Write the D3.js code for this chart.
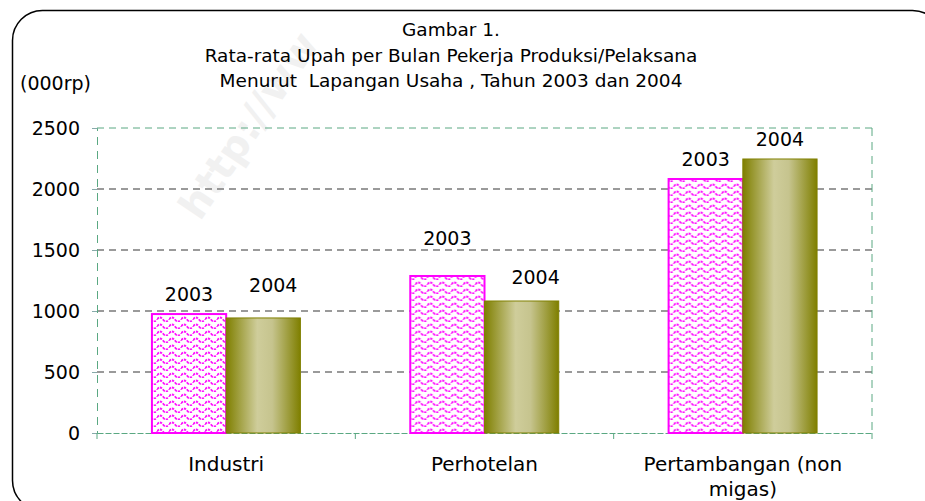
<!DOCTYPE html>
<html>
<head>
<meta charset="utf-8">
<script src="https://cdn.jsdelivr.net/npm/d3@7"></script>
<style>
  body { margin: 0; background: #fff; }
  svg { font-family: "DejaVu Sans", Verdana, sans-serif; }
</style>
</head>
<body>
<div id="chart"></div>
<script>
// data
var categories = ["Industri", "Perhotelan", "Pertambangan (non migas)"];
var years = ["2003", "2004"];
var values2003 = [975, 1287, 2082];
var values2004 = [943, 1082, 2246];
var yTicks = [0, 500, 1000, 1500, 2000, 2500];
var titleLines = ["Gambar 1.",
                  "Rata-rata Upah per Bulan Pekerja Produksi/Pelaksana",
                  "Menurut  Lapangan Usaha , Tahun 2003 dan 2004"];

var width = 925, height = 501;
var margin = {top: 128, right: 53, bottom: 68, left: 97};

var svg = d3.select("#chart").append("svg")
    .attr("width", width)
    .attr("height", height);

var defs = svg.append("defs");

// wavy magenta hatch for 2003
var pat = defs.append("pattern")
    .attr("id", "wave")
    .attr("patternUnits", "userSpaceOnUse")
    .attr("width", 12)
    .attr("height", 7);
pat.append("rect").attr("width", 12).attr("height", 7).attr("fill", "#fff");
pat.append("path")
    .attr("d", "M0,4.5 Q3,0.5 6,4.5 T12,4.5")
    .attr("fill", "none")
    .attr("stroke", "#ff11ff")
    .attr("stroke-width", 1.8)
    .attr("stroke-dasharray", "2.5,1");

// olive cylinder look for 2004
var grad = defs.append("linearGradient")
    .attr("id", "olive")
    .attr("x1", "0%").attr("x2", "100%").attr("y1", "0%").attr("y2", "0%");
grad.append("stop").attr("offset", "0%").attr("stop-color", "#7f7f00");
grad.append("stop").attr("offset", "42%").attr("stop-color", "#cfcd9b");
grad.append("stop").attr("offset", "62%").attr("stop-color", "#c6c48e");
grad.append("stop").attr("offset", "100%").attr("stop-color", "#7f7f00");

// faint watermark
svg.append("text")
    .attr("transform", "translate(200,222) rotate(-56)")
    .style("font-size", "40px")
    .style("font-weight", "bold")
    .style("fill", "#f1f1f1")
    .text("http://ww");

// rounded frame
svg.append("rect")
    .attr("x", 12.5).attr("y", 10.5)
    .attr("width", 930).attr("height", 500)
    .attr("rx", 30).attr("ry", 30)
    .attr("fill", "none")
    .attr("stroke", "#000")
    .attr("stroke-width", 1.5);

var x = d3.scaleBand()
    .domain(categories)
    .range([margin.left, width - margin.right])
    .padding(0);

var x1 = d3.scaleBand()
    .domain(years)
    .range([0, x.bandwidth()])
    .paddingInner(0)
    .paddingOuter(0.74);

var y = d3.scaleLinear()
    .domain([0, 2500])
    .range([height - margin.bottom, margin.top]);

var green = "#5aa882";

// gridlines
svg.append("g")
    .selectAll("line")
    .data(yTicks.filter(function(d) { return d > 0 && d < 2500; }))
    .enter().append("line")
    .attr("x1", margin.left).attr("x2", width - margin.right)
    .attr("y1", function(d) { return y(d); })
    .attr("y2", function(d) { return y(d); })
    .attr("stroke", "#7a7a7a")
    .attr("stroke-width", 1.3)
    .attr("stroke-dasharray", "7,5");

// green dashed box (top + right)
svg.append("line")
    .attr("x1", margin.left).attr("x2", width - margin.right)
    .attr("y1", y(2500)).attr("y2", y(2500))
    .attr("stroke", green).attr("stroke-dasharray", "7,5");
svg.append("line")
    .attr("x1", width - margin.right).attr("x2", width - margin.right)
    .attr("y1", y(2500)).attr("y2", y(0))
    .attr("stroke", green).attr("stroke-dasharray", "8,6");

// y axis
var yAxis = svg.append("g")
    .attr("transform", "translate(" + margin.left + ",0)")
    .call(d3.axisLeft(y).tickValues(yTicks).tickFormat(d3.format("d")).tickSize(5).tickPadding(12));
yAxis.select(".domain").attr("stroke", green).attr("stroke-dasharray", "8,6");
yAxis.selectAll(".tick line").attr("stroke", "#8aa");
yAxis.selectAll("text")
    .style("font-size", "19px")
    .style("font-family", "DejaVu Sans, Verdana, sans-serif")
    .attr("fill", "#000");

// x axis
var xAxis = svg.append("g")
    .attr("transform", "translate(0," + y(0) + ")")
    .call(d3.axisBottom(x).tickSize(0).tickFormat(""));
xAxis.select(".domain").attr("stroke", green).attr("stroke-dasharray", "6,2");
xAxis.selectAll(".tick").remove();
xAxis.selectAll(".sep")
    .data(categories.concat(["end"]))
    .enter().append("line")
    .attr("class", "sep")
    .attr("x1", function(d, i) { return i < categories.length ? x(d) : x.range()[1]; })
    .attr("x2", function(d, i) { return i < categories.length ? x(d) : x.range()[1]; })
    .attr("y1", 0).attr("y2", 6)
    .attr("stroke", green);

// bars
var rows = categories.map(function(c, i) {
  return {cat: c, vals: [{year: "2003", v: values2003[i]}, {year: "2004", v: values2004[i]}]};
});

var groups = svg.append("g").selectAll("g")
    .data(rows)
    .enter().append("g")
    .attr("transform", function(d) { return "translate(" + x(d.cat) + ",0)"; });

groups.selectAll("rect")
    .data(function(d) { return d.vals; })
    .enter().append("rect")
    .attr("x", function(d) { return x1(d.year); })
    .attr("y", function(d) { return y(d.v); })
    .attr("width", x1.bandwidth())
    .attr("height", function(d) { return y(0) - y(d.v); })
    .attr("fill", function(d) { return d.year == "2003" ? "url(#wave)" : "url(#olive)"; })
    .attr("stroke", function(d) { return d.year == "2003" ? "#ff00ff" : "#808000"; })
    .attr("stroke-width", function(d) { return d.year == "2003" ? 2 : 1; });

// value labels (the year), some were dragged by hand in the original
// offset = [dx, dy] from the bar top centre
var nudge = {"Industri-2004": [10, -26], "Perhotelan-2003": [0, -31], "Perhotelan-2004": [14, -17]};
groups.selectAll("text")
    .data(function(d) { return d.vals.map(function(e) { return {cat: d.cat, year: e.year, v: e.v}; }); })
    .enter().append("text")
    .attr("x", function(d) {
      var n = nudge[d.cat + "-" + d.year];
      return x1(d.year) + x1.bandwidth() / 2 + (n ? n[0] : 0);
    })
    .attr("y", function(d) {
      var n = nudge[d.cat + "-" + d.year];
      return y(d.v) + (n ? n[1] : -13);
    })
    .attr("text-anchor", "middle")
    .style("font-size", "19px")
    .text(function(d) { return d.year; });

// category labels
var catLines = [["Industri"], ["Perhotelan"], ["Pertambangan (non", "migas)"]];
svg.append("g").selectAll("text")
    .data(categories)
    .enter().append("text")
    .attr("x", function(d) { return x(d) + x.bandwidth() / 2; })
    .attr("y", y(0) + 38)
    .attr("text-anchor", "middle")
    .style("font-size", "20px")
    .each(function(d, i) {
      var t = d3.select(this);
      catLines[i].forEach(function(l, j) {
        t.append("tspan")
          .attr("x", x(d) + x.bandwidth() / 2)
          .attr("dy", j == 0 ? 0 : 25)
          .text(l);
      });
    });

// title
svg.append("g").selectAll("text")
    .data(titleLines)
    .enter().append("text")
    .attr("x", 451)
    .attr("y", function(d, i) { return 36 + i * 25.5; })
    .attr("text-anchor", "middle")
    .style("font-size", "18.5px")
    .style("white-space", "pre")
    .text(function(d) { return d; });

svg.append("text")
    .attr("x", 20).attr("y", 90)
    .style("font-size", "19px")
    .text("(000rp)");
</script>
</body>
</html>
